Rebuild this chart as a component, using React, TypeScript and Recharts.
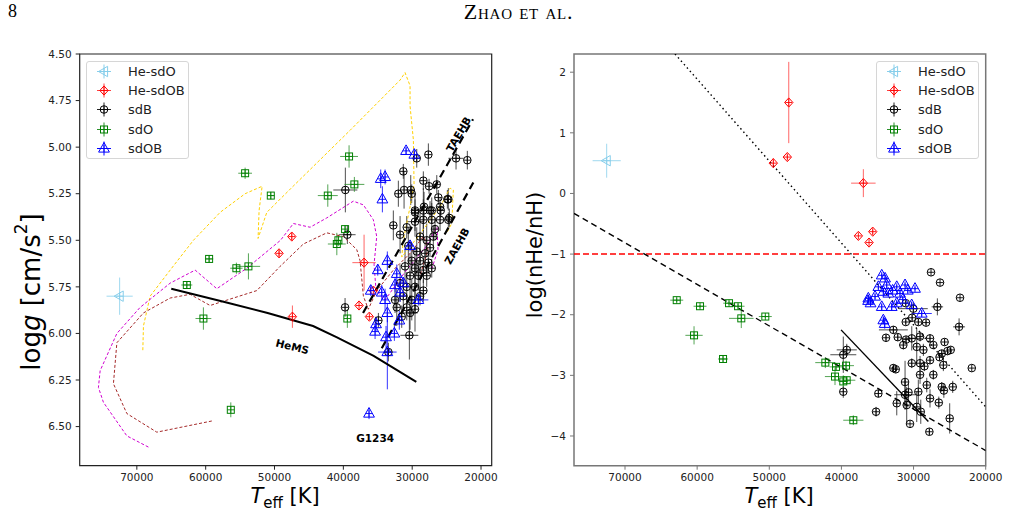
import React from 'react';
import {
  ScatterChart,
  Scatter,
  XAxis,
  YAxis,
  ErrorBar,
  ReferenceArea,
  ReferenceLine,
  Legend,
} from 'recharts';

const FONT = '"DejaVu Sans", sans-serif';

// axis ranges and ticks
const LEFT_T = [18450, 78300];
const LEFT_G = [4.5, 6.71];
const RIGHT_T = [20000, 77070];
const RIGHT_HE = [-4.49, 2.3];
const T_TICKS = [70000, 60000, 50000, 40000, 30000, 20000];
const G_TICKS = [4.5, 4.75, 5, 5.25, 5.5, 5.75, 6, 6.25, 6.5];
const HE_TICKS = [-4, -3, -2, -1, 0, 1, 2];

// stars: [Teff, logg, errTeff, errLogg]
const heSdO_g = [[72500, 5.8, 1900, 0.1]];
const heSdOB_g = [
  [49340, 5.57, 0, 0.02], [47490, 5.48, 0, 0.02], [36990, 5.62, 1700, 0.15],
  [47400, 5.91, 0, 0.06], [37720, 5.85, 0, 0], [36220, 5.91, 0, 0], [35640, 5.77, 0, 0],
];
const sdO_g = [
  [54270, 5.14, 1000, 0.03], [50540, 5.26, 500, 0.02], [39170, 5.05, 1300, 0.06],
  [38400, 5.2, 1450, 0.04], [42260, 5.26, 1450, 0.06], [39750, 5.44, 0, 0.02],
  [40720, 5.5, 0, 0.03], [40950, 5.52, 1300, 0.06], [59500, 5.6, 600, 0.02],
  [55540, 5.65, 900, 0.03], [53790, 5.64, 1700, 0.07], [62740, 5.74, 800, 0.02],
  [60330, 5.92, 1150, 0.06], [39420, 5.92, 0, 0.05], [56350, 6.41, 0, 0.04],
];
const sdOB_g = [
  [30890, 5.02, 0, 0.02], [29690, 5.04, 0, 0.03], [34570, 5.17, 0, 0.05], [33940, 5.16, 0, 0.04],
  [34330, 5.28, 0, 0.07], [33610, 5.61, 0, 0.05], [35000, 5.66, 0, 0.03], [36020, 5.77, 0, 0.03],
  [34420, 5.78, 0, 0.04], [32240, 5.68, 0, 0.05], [32490, 5.74, 0, 0.04], [31760, 5.78, 0, 0.05],
  [31290, 5.73, 0, 0.03], [33940, 5.82, 0, 0.06], [33610, 5.89, 0, 0.05], [35250, 5.95, 0, 0.04],
  [35390, 5.99, 0, 0.04], [32590, 6.0, 0, 0.04], [33800, 6.02, 0, 0.06], [33610, 6.1, 1350, 0.2],
  [30310, 5.53, 0, 0.03], [29100, 5.82, 1450, 0.03], [31870, 5.93, 0, 0.05], [36270, 6.43, 0, 0.03],
];
const sdB_g = [
  [29340, 5.06, 0, 0.05], [27650, 5.04, 0, 0.06], [23630, 5.06, 1100, 0.06], [21990, 5.07, 0, 0.05],
  [31290, 5.13, 0, 0.04], [39710, 5.23, 1750, 0.12], [32010, 5.25, 0, 0.07], [31180, 5.23, 0, 0.1],
  [30070, 5.25, 0, 0.05], [28380, 5.18, 0, 0.05], [27550, 5.21, 0, 0.04], [26430, 5.2, 0, 0.05],
  [26200, 5.27, 0, 0.04], [24890, 5.28, 0, 0.05], [32740, 5.42, 0, 0.08], [31760, 5.47, 0, 0.1],
  [29590, 5.34, 0, 0.06], [28280, 5.32, 0, 0.08], [27410, 5.34, 0, 0.05], [25850, 5.34, 0, 0.04],
  [24600, 5.38, 0, 0.05], [26680, 5.44, 0, 0.06], [39420, 5.47, 1200, 0.05], [30210, 5.23, 0, 0.08],
  [29590, 5.35, 0, 0.1], [28380, 5.34, 0, 0.12], [27160, 5.34, 0, 0.07], [25950, 5.32, 0, 0.05],
  [24750, 5.28, 0, 0.06], [24750, 5.39, 0, 0.04], [25950, 5.39, 0, 0.06], [27160, 5.39, 0, 0.09],
  [28380, 5.39, 0, 0.11], [29590, 5.4, 1200, 0.08], [30790, 5.43, 0, 0.06], [28860, 5.48, 0, 0.14],
  [27890, 5.5, 0, 0.09], [26930, 5.48, 0, 0.06], [30560, 5.53, 0, 0.1], [29340, 5.56, 0, 0.13],
  [28130, 5.57, 0, 0.08], [27410, 5.54, 0, 0.05], [30060, 5.61, 0, 0.07], [28860, 5.61, 0, 0.15],
  [27650, 5.62, 0, 0.06], [31040, 5.64, 0, 0.09], [29590, 5.65, 0, 0.11], [28380, 5.66, 0, 0.07],
  [27160, 5.65, 0, 0.05], [30310, 5.69, 0, 0.12], [29110, 5.69, 0, 0.08], [27890, 5.69, 0, 0.06],
  [31760, 5.73, 0, 0.1], [30790, 5.75, 0, 0.08], [29590, 5.75, 0, 0.13], [28380, 5.77, 0, 0.06],
  [31290, 5.8, 0, 0.09], [30060, 5.82, 0, 0.11], [28860, 5.8, 0, 0.05], [32490, 5.82, 0, 0.07],
  [32240, 5.86, 0, 0.1], [30790, 5.86, 0, 0.07], [29590, 5.87, 0, 0.12], [31520, 5.91, 0, 0.06],
  [30310, 5.89, 1100, 0.09], [34910, 5.93, 0, 0.04], [33460, 6.1, 0, 0.05], [30410, 6.01, 1300, 0.13],
  [39750, 5.86, 0, 0.05],
];

// stars: [Teff, log(nHe/nH), errTeff, errHe]
const heSdO_he = [[72540, 0.54, 1950, 0.28]];
const heSdOB_he = [
  [49440, 0.5, 0, 0.08], [47500, 0.6, 0, 0.04], [47300, 1.5, 0, 0.67], [36960, 0.17, 1700, 0.23],
  [37650, -0.7, 0, 0], [36170, -0.81, 0, 0], [35660, -0.63, 0, 0.04],
];
const sdO_he = [
  [62830, -1.76, 900, 0.03], [59600, -1.86, 900, 0.02], [55580, -1.81, 800, 0.03],
  [54330, -1.86, 900, 0.04], [53880, -2.06, 1700, 0.16], [50550, -2.03, 900, 0.02],
  [60430, -2.34, 1200, 0.15], [56410, -2.73, 700, 0.05], [42230, -2.79, 1400, 0.09],
  [40750, -2.86, 900, 0.06], [39360, -2.84, 1100, 0.08], [40890, -3.02, 1400, 0.14],
  [39740, -3.1, 700, 0.1], [39270, -3.08, 1200, 0.06], [38350, -3.74, 1400, 0.08],
];
const sdOB_he = [
  [34410, -1.35, 0, 0.03], [33950, -1.4, 0, 0.03], [34880, -1.54, 0, 0.04], [33720, -1.51, 0, 0.05],
  [32330, -1.54, 0, 0.03], [31180, -1.51, 0, 0.03], [29800, -1.57, 0, 0.03], [36270, -1.73, 0, 0.05],
  [35340, -1.7, 0, 0.04], [34190, -1.62, 0, 0.06], [33500, -1.65, 0, 0.04], [31880, -1.65, 0, 0.05],
  [35960, -1.81, 0, 0.04], [34410, -1.87, 0, 0.05], [33030, -1.87, 0, 0.06], [32330, -1.81, 0, 0.04],
  [30260, -1.84, 0, 0.05], [28870, -1.98, 1400, 0.05], [34190, -2.09, 0, 0.06], [34000, -2.15, 0, 0.08],
  [32900, -1.6, 0, 0.03], [30800, -1.6, 0, 0.04], [31500, -1.75, 0, 0.04], [36300, -1.77, 0, 0.04],
];
const sdB_he = [
  [27580, -1.3, 0, 0], [26330, -1.47, 0, 0], [23560, -1.72, 0, 0], [26700, -1.87, 800, 0.14],
  [23690, -2.2, 830, 0.14], [21930, -2.88, 0, 0], [31080, -1.81, 0, 0.04], [30030, -1.9, 2000, 0.1],
  [29340, -2.12, 0, 0.05], [31080, -2.12, 0, 0.04], [32800, -2.25, 2000, 0.06], [28270, -2.13, 0, 0.04],
  [33820, -2.38, 0, 0.05], [32190, -2.37, 0, 0.06], [31040, -2.41, 0, 0.05], [30250, -2.39, 1500, 0.2],
  [29100, -2.36, 0, 0.08], [27720, -2.39, 0, 0.06], [27260, -2.5, 0, 0.05], [26090, -2.64, 0, 0.06],
  [24850, -2.58, 0, 0.04], [31420, -2.5, 0, 0.07], [29560, -2.53, 0, 0.3], [28640, -2.58, 0, 0.1],
  [30250, -2.8, 0, 0.08], [29100, -2.8, 0, 0.12], [27720, -2.75, 0, 0.06], [25870, -2.83, 0, 0.1],
  [32800, -2.88, 0, 0.06], [29100, -2.99, 0, 0.15], [27260, -2.99, 0, 0.08], [31180, -3.11, 0, 0.35],
  [28170, -3.16, 0, 0.12], [26090, -3.19, 0, 0.08], [24570, -3.19, 0, 0.1], [29340, -3.27, 0, 0.2],
  [27720, -3.38, 0, 0.15], [31180, -3.32, 1500, 0.25], [34880, -3.3, 0, 0.06], [32330, -3.46, 0, 0.2],
  [30950, -3.49, 0, 0.3], [29560, -3.52, 0, 0.25], [35200, -3.6, 0, 0.08], [30490, -3.8, 0, 0],
  [27810, -3.93, 0, 0.05], [24990, -3.71, 0, 0.25], [39260, -2.58, 1390, 0.1], [39740, -2.66, 1800, 0.3],
  [39740, -3.27, 0, 0.1], [32470, -2.9, 0, 0.05], [28500, -2.85, 0, 0.08], [26400, -2.7, 0, 0.06],
  [25300, -2.6, 0, 0.05], [25800, -3.25, 0, 0.12], [26500, -3.45, 0, 0.1], [30700, -3.28, 0, 0.15],
  [29000, -3.6, 0, 0.2], [25700, -2.45, 0, 0.05], [30200, -2.05, 0, 0.05],
];

// evolutionary tracks and model lines, [Teff, logg]
const yellowTrack = [
  [69130, 6.09], [69040, 5.96], [68070, 5.8], [65160, 5.66], [61780, 5.5], [57900, 5.35],
  [54270, 5.25], [51800, 5.21], [52240, 5.34], [52390, 5.49], [51120, 5.35], [47300, 5.21],
  [39030, 4.91], [31760, 4.64], [31040, 4.6], [30310, 4.67], [30310, 4.78], [29830, 4.96],
  [29730, 5.2], [30310, 5.32], [31290, 5.5], [31520, 5.59], [29150, 5.48], [25950, 5.32],
  [24500, 5.22], [24020, 5.23], [24260, 5.41], [24980, 5.46],
];
const magentaTrack = [
  [68320, 6.61], [71450, 6.55], [74850, 6.37], [75580, 6.29], [75330, 6.2], [72900, 6.0],
  [69520, 5.86], [65160, 5.73], [61530, 5.66], [58380, 5.76], [54030, 5.65], [49130, 5.5],
  [47260, 5.41], [44830, 5.43], [42410, 5.38], [38550, 5.29], [37090, 5.31], [35640, 5.39],
  [35150, 5.48], [35540, 5.63], [35250, 5.77], [33940, 5.82], [31040, 5.67], [28130, 5.54],
  [26390, 5.43], [26250, 5.55], [27120, 5.65],
];
const brownTrack = [
  [59110, 6.47], [67100, 6.53], [71450, 6.43], [73400, 6.27], [72900, 6.05], [69040, 5.89],
  [65160, 5.81], [62260, 5.79], [59360, 5.85], [55970, 5.81], [52570, 5.77], [49190, 5.64],
  [45810, 5.52], [42410, 5.46], [40000, 5.48], [38050, 5.55], [37570, 5.61], [37090, 5.8],
  [36370, 5.87], [35150, 5.77], [32740, 5.66], [30310, 5.57], [28380, 5.48], [27700, 5.55],
  [28860, 5.69],
];
const heMS = [[65000, 5.76], [57400, 5.83], [51000, 5.89], [44400, 5.96], [41000, 6.02], [35600, 6.12], [29400, 6.26]];
const taehb = [[37140, 5.89], [21160, 4.85]];
const zaehb = [[34420, 6.08], [21120, 5.19]];

// helium model lines, [Teff, log(nHe/nH)]
const dashedHe = [[77070, -0.33], [20000, -4.24]];
const dottedHe = [[63070, 2.3], [20000, -3.52]];
const solidHe = [[40050, -2.25], [27950, -3.76]];

const leftNotes = [
  { t: 23300, v: 4.93, text: 'TAEHB', angle: -60 },
  { t: 23540, v: 5.53, text: 'ZAEHB', angle: -61 },
  { t: 47400, v: 6.07, text: 'HeMS', angle: 14 },
  { t: 35390, v: 6.56, text: 'G1234', angle: 0 },
];

type Kind = 'ltri' | 'diamond' | 'circle' | 'square' | 'tri';
const CLASSES: { name: string; kind: Kind; color: string; bar: string }[] = [
  { name: 'He-sdO', kind: 'ltri', color: '#87ceeb', bar: '#87ceeb' },
  { name: 'He-sdOB', kind: 'diamond', color: '#ff0000', bar: '#ff4040' },
  { name: 'sdB', kind: 'circle', color: '#000000', bar: '#222222' },
  { name: 'sdO', kind: 'square', color: '#008000', bar: '#2a8f2a' },
  { name: 'sdOB', kind: 'tri', color: '#0000ff', bar: '#0000ff' },
];

const points = (rows: number[][]) => rows.map(([t, v, et = 0, ev = 0]) => ({ t, v, et, ev }));

const drawMarker = (kind: Kind, color: string, cx: number, cy: number) => {
  const cross = (
    <path d={`M${cx - 3.5},${cy}H${cx + 3.5}M${cx},${cy - 3.5}V${cy + 3.5}`} stroke={color} strokeWidth={0.9} />
  );
  let body;
  if (kind === 'circle') body = <circle cx={cx} cy={cy} r={3.8} />;
  else if (kind === 'square') body = <rect x={cx - 3.5} y={cy - 3.5} width={7} height={7} />;
  else if (kind === 'diamond')
    body = <polygon points={`${cx},${cy - 4.6} ${cx + 4.2},${cy} ${cx},${cy + 4.6} ${cx - 4.2},${cy}`} />;
  else if (kind === 'tri')
    body = <polygon points={`${cx},${cy - 6} ${cx + 5.4},${cy + 3.6} ${cx - 5.4},${cy + 3.6}`} />;
  else body = <polygon points={`${cx - 5.5},${cy} ${cx + 3.6},${cy - 5.2} ${cx + 3.6},${cy + 5.2}`} />;
  return (
    <g fill="none" stroke={color} strokeWidth={1}>
      {body}
      {cross}
    </g>
  );
};

const starSeries = (rows: number[][], idx: number) => {
  const c = CLASSES[idx];
  return (
    <Scatter
      key={c.name}
      name={c.name}
      data={points(rows)}
      isAnimationActive={false}
      shape={(p: any) => drawMarker(c.kind, c.color, p.cx, p.cy)}
    >
      <ErrorBar dataKey="et" direction="x" width={0} stroke={c.bar} strokeWidth={1} strokeOpacity={0.8} />
      <ErrorBar dataKey="ev" direction="y" width={0} stroke={c.bar} strokeWidth={1} strokeOpacity={0.8} />
    </Scatter>
  );
};

const noMark = () => <g />;

const lineSeries = (key: string, rows: number[][], stroke: string, width: number, dash?: string) => (
  <Scatter
    key={key}
    data={points(rows)}
    isAnimationActive={false}
    legendType="none"
    shape={noMark}
    line={{ stroke, strokeWidth: width, strokeDasharray: dash }}
  />
);

const noteShape = (p: any) => {
  const { cx, cy, payload } = p;
  return (
    <text
      x={cx}
      y={cy}
      textAnchor="middle"
      dominantBaseline="central"
      fontSize={10.5}
      fontWeight="bold"
      fontFamily={FONT}
      fill="#000"
      transform={`rotate(${payload.angle} ${cx} ${cy})`}
    >
      {payload.text}
    </text>
  );
};

const LegendBox = () => (
  <div
    style={{
      width: 101,
      border: '1px solid #d6d6d6',
      borderRadius: 3,
      background: 'rgba(255,255,255,0.85)',
      fontFamily: FONT,
      fontSize: 13,
      color: '#222',
    }}
  >
    {CLASSES.map((c) => (
      <div key={c.name} style={{ display: 'flex', alignItems: 'center', height: 19.2 }}>
        <svg width={36} height={19} style={{ display: 'block' }}>
          <path d="M10,9.5H24M17,2.5V16.5" stroke={c.bar} strokeWidth={1} />
          {drawMarker(c.kind, c.color, 17, 9.5)}
        </svg>
        <span style={{ marginLeft: 5 }}>{c.name}</span>
      </div>
    ))}
  </div>
);

const tickStyle = { fontSize: 10.5, fill: '#222', fontFamily: FONT };
const minus = (v: number) => (v < 0 ? `\u2212${Math.abs(v)}` : `${v}`);

const teffTitle = (x: number) => () => (
  <text x={x} y={503} textAnchor="middle" fontSize={21} fontFamily={FONT} fill="#000">
    <tspan fontStyle="italic">T</tspan>
    <tspan dy={5} fontSize={15}>eff</tspan>
    <tspan dy={-5}> [K]</tspan>
  </text>
);

const loggTitle = () => (
  <text
    x={31}
    y={292}
    textAnchor="middle"
    dominantBaseline="central"
    fontSize={26}
    fontFamily={FONT}
    fill="#000"
    transform="rotate(-90 31 292)"
  >
    log<tspan fontStyle="italic">g</tspan> [cm/s<tspan dy={-10} fontSize={17}>2</tspan>
    <tspan dy={10}>]</tspan>
  </text>
);

const heTitle = () => (
  <text
    x={15}
    y={255}
    textAnchor="middle"
    dominantBaseline="central"
    fontSize={21}
    fontFamily={FONT}
    fill="#000"
    transform="rotate(-90 15 255)"
  >
    log(nHe/nH)
  </text>
);

const App: React.FC = () => (
  <div style={{ position: 'absolute', left: 0, top: 0, width: 1009, height: 515, background: '#fff', fontFamily: FONT }}>
    <div style={{ position: 'absolute', left: 8, top: 1, fontFamily: '"Liberation Serif", serif', fontSize: 18 }}>8</div>
    <div
      style={{
        position: 'absolute',
        left: 0,
        width: 1037,
        top: -1,
        textAlign: 'center',
        fontFamily: '"Liberation Serif", serif',
        fontSize: 22,
        letterSpacing: 0.8,
        fontVariant: 'small-caps',
      }}
    >
      Zhao et al.
    </div>

    {/* log g vs Teff */}
    <div style={{ position: 'absolute', left: 0, top: 0 }}>
      <ScatterChart width={530} height={515} margin={{ top: 54, left: 39.7, right: 38.3, bottom: 19.3 }}>
        <XAxis
          type="number"
          dataKey="t"
          domain={LEFT_T}
          reversed
          allowDataOverflow
          ticks={T_TICKS}
          tick={tickStyle}
          tickSize={4}
          tickMargin={4}
          height={30}
          axisLine={false}
          tickLine={{ stroke: '#222' }}
          label={teffTitle(285)}
        />
        <YAxis
          type="number"
          dataKey="v"
          domain={LEFT_G}
          reversed
          allowDataOverflow
          ticks={G_TICKS}
          tickFormatter={(v: number) => v.toFixed(2)}
          tick={tickStyle}
          tickSize={4}
          tickMargin={4}
          width={40}
          axisLine={false}
          tickLine={{ stroke: '#222' }}
          label={loggTitle}
        />
        <ReferenceArea x1={LEFT_T[0]} x2={LEFT_T[1]} y1={LEFT_G[0]} y2={LEFT_G[1]} fill="none" stroke="#222" strokeWidth={1.2} fillOpacity={0} />
        {lineSeries('yellow', yellowTrack, '#ffd000', 1, '3 2')}
        {lineSeries('magenta', magentaTrack, '#d000d0', 1, '3 2')}
        {lineSeries('brown', brownTrack, '#a52a2a', 1, '3 2')}
        {lineSeries('hems', heMS, '#000', 2)}
        {lineSeries('taehb', taehb, '#000', 2.2, '8 5')}
        {lineSeries('zaehb', zaehb, '#000', 2.2, '8 5')}
        {starSeries(heSdO_g, 0)}
        {starSeries(heSdOB_g, 1)}
        {starSeries(sdB_g, 2)}
        {starSeries(sdO_g, 3)}
        {starSeries(sdOB_g, 4)}
        <Scatter data={leftNotes} dataKey="v" isAnimationActive={false} legendType="none" shape={noteShape} />
        <Legend
          layout="horizontal"
          verticalAlign="middle"
          align="center"
          content={() => <LegendBox />}
          wrapperStyle={{ left: 86, top: 61, width: 103, height: 'auto' }}
        />
      </ScatterChart>
    </div>

    {/* log(nHe/nH) vs Teff */}
    <div style={{ position: 'absolute', left: 520, top: 0 }}>
      <ScatterChart width={489} height={515} margin={{ top: 54, left: 14, right: 23.3, bottom: 19.3 }}>
        <XAxis
          type="number"
          dataKey="t"
          domain={RIGHT_T}
          reversed
          allowDataOverflow
          ticks={T_TICKS}
          tick={tickStyle}
          tickSize={4}
          tickMargin={4}
          height={30}
          axisLine={false}
          tickLine={{ stroke: '#777' }}
          label={teffTitle(259)}
        />
        <YAxis
          type="number"
          dataKey="v"
          domain={RIGHT_HE}
          allowDataOverflow
          ticks={HE_TICKS}
          tickFormatter={minus}
          tick={tickStyle}
          tickSize={4}
          tickMargin={4}
          width={40}
          axisLine={false}
          tickLine={{ stroke: '#777' }}
          label={heTitle}
        />
        <ReferenceArea x1={RIGHT_T[0]} x2={RIGHT_T[1]} y1={RIGHT_HE[0]} y2={RIGHT_HE[1]} fill="none" stroke="#777" strokeWidth={1.5} fillOpacity={0} />
        <ReferenceLine y={-1} stroke="#ff0000" strokeWidth={1.5} strokeDasharray="6 3" />
        {lineSeries('dashed', dashedHe, '#000', 1.4, '6 4')}
        {lineSeries('dotted', dottedHe, '#000', 1.4, '1.5 3')}
        {lineSeries('solid', solidHe, '#000', 1.4)}
        {starSeries(heSdO_he, 0)}
        {starSeries(heSdOB_he, 1)}
        {starSeries(sdB_he, 2)}
        {starSeries(sdO_he, 3)}
        {starSeries(sdOB_he, 4)}
        <Legend
          layout="horizontal"
          verticalAlign="middle"
          align="center"
          content={() => <LegendBox />}
          wrapperStyle={{ left: 356, top: 61, width: 103, height: 'auto' }}
        />
      </ScatterChart>
    </div>
  </div>
);

export default App;
